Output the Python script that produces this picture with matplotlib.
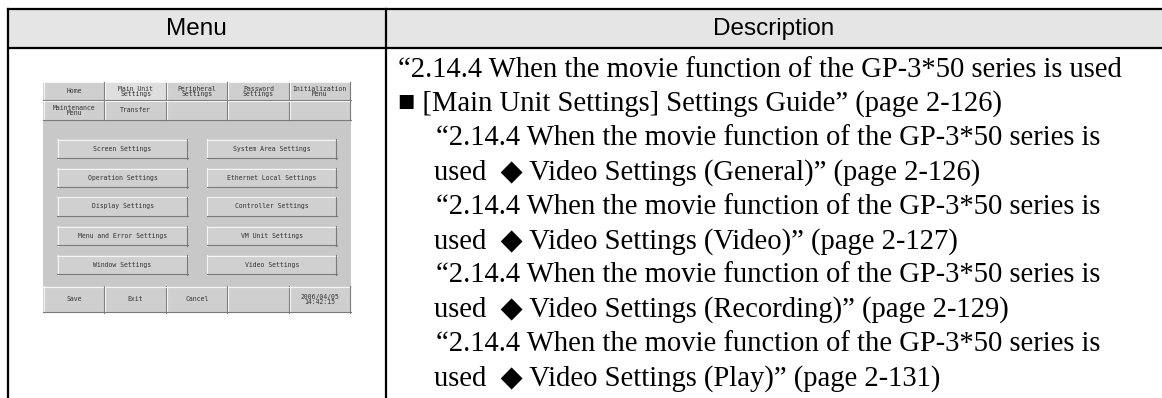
import matplotlib
matplotlib.use("Agg")
import matplotlib.pyplot as plt
from matplotlib.patches import Rectangle
import numpy as np

# ---- table content ----
headers = ["Menu", "Description"]

desc_lines = [
    "\u201c2.14.4 When the movie function of the GP-3*50 series is used",
    "\u25a0 [Main Unit Settings] Settings Guide\u201d (page 2-126)",
    "\u201c2.14.4 When the movie function of the GP-3*50 series is",
    "used  \u25c6 Video Settings (General)\u201d (page 2-126)",
    "\u201c2.14.4 When the movie function of the GP-3*50 series is",
    "used  \u25c6 Video Settings (Video)\u201d (page 2-127)",
    "\u201c2.14.4 When the movie function of the GP-3*50 series is",
    "used  \u25c6 Video Settings (Recording)\u201d (page 2-129)",
    "\u201c2.14.4 When the movie function of the GP-3*50 series is",
    "used  \u25c6 Video Settings (Play)\u201d (page 2-131)",
]
desc_indent = [0, 0, 2, 1, 2, 1, 2, 1, 2, 1]  # 0 = flush, 1 = "used" indent, 2 = quote indent

# ---- screen capture content ----
tab_row1 = ["Home", "Main Unit\nSettings", "Peripheral\nSettings", "Password\nSettings", "Initialization\nMenu"]
tab_row2 = ["Maintenance\nMenu", "Transfer", "", "", ""]
buttons_left = ["Screen Settings", "Operation Settings", "Display Settings",
                "Menu and Error Settings", "Window Settings"]
buttons_right = ["System Area Settings", "Ethernet Local Settings", "Controller Settings",
                 "VM Unit Settings", "Video Settings"]
bottom_row = ["Save", "Exit", "Cancel", "", "2006/04/05\n14:42:15"]

W, H = 1162, 398
fig = plt.figure(figsize=(W / 100, H / 100), dpi=100)
ax = fig.add_axes([0, 0, 1, 1])
ax.set_xlim(0, W)
ax.set_ylim(H, 0)
ax.axis("off")

# table frame
X_LEFT, X_DIV, Y_TOP, Y_HEAD = 7.5, 385.7, 9.0, 47.5
LW = 1.6
ax.add_patch(Rectangle((X_LEFT, Y_TOP), W - X_LEFT, Y_HEAD - Y_TOP, facecolor="#e5e5e5", edgecolor="none"))
ax.plot([X_LEFT, W], [Y_TOP, Y_TOP], color="black", lw=LW, solid_capstyle="projecting")
ax.plot([X_LEFT, W], [Y_HEAD, Y_HEAD], color="black", lw=LW)
ax.plot([X_LEFT, X_LEFT], [Y_TOP, H], color="black", lw=LW, solid_capstyle="projecting")
ax.plot([X_DIV, X_DIV], [Y_TOP, H], color="black", lw=LW)

hfont = dict(family=["Liberation Sans", "DejaVu Sans"], fontsize=17.5, va="center", ha="center")
ax.text((X_LEFT + X_DIV) / 2, (Y_TOP + Y_HEAD) / 2 + 1, headers[0], **hfont)
ax.text((X_DIV + W) / 2, (Y_TOP + Y_HEAD) / 2 + 1, headers[1], **hfont)

# description text
indent_x = {0: 398, 1: 434, 2: 436}
for i, (line, ind) in enumerate(zip(desc_lines, desc_indent)):
    ax.text(indent_x[ind], 76.7 + i * 34.3, line, family=["Liberation Serif", "DejaVu Sans"],
            fontsize=20.6, va="baseline", ha="left", color="black")

# ---- screen capture ----
PX0, PX1, PY0, PY1 = 43.3, 350.7, 81.7, 312.7
BG = "#c8c8c8"
TXT = "#333333"
sfont = dict(family="DejaVu Sans Mono", fontsize=4.7, color=TXT, ha="center", va="center",
             linespacing=0.85)


def bevel(x0, y0, x1, y1, face="#d2d2d2", light="#f4f4f4", dark="#7a7a7a"):
    ax.add_patch(Rectangle((x0, y0), x1 - x0, y1 - y0, facecolor=face, edgecolor="none"))
    ax.plot([x0, x1], [y0 + 0.5, y0 + 0.5], color=light, lw=0.8)
    ax.plot([x0 + 0.5, x0 + 0.5], [y0, y1], color=light, lw=0.8)
    ax.plot([x0, x1], [y1 - 0.5, y1 - 0.5], color=dark, lw=0.8)
    ax.plot([x1 - 0.5, x1 - 0.5], [y0, y1], color=dark, lw=0.8)


ax.add_patch(Rectangle((PX0, PY0), PX1 - PX0, PY1 - PY0, facecolor=BG, edgecolor="none"))

cols = np.linspace(PX0, PX1, 6)
tab_rows = [(81.7, 100.7, tab_row1), (100.7, 120.0, tab_row2)]
for y0, y1, labels in tab_rows:
    for j, lab in enumerate(labels):
        face = "#dedede" if lab.startswith("Main Unit") else "#cfcfcf"
        bevel(cols[j], y0, cols[j + 1], y1, face=face)
        if lab:
            ax.text((cols[j] + cols[j + 1]) / 2, (y0 + y1) / 2, lab, **sfont)

btn_tops = [139.3, 168.3, 196.7, 226.0, 255.0]
BTN_H = 19.5
for x0, x1, labels in [(57.3, 187.7, buttons_left), (206.7, 336.7, buttons_right)]:
    for top, lab in zip(btn_tops, labels):
        bevel(x0, top, x1, top + BTN_H, face="#d0d0d0")
        ax.text((x0 + x1) / 2, top + BTN_H / 2, lab, **sfont)

for j, lab in enumerate(bottom_row):
    bevel(cols[j], 286.0, cols[j + 1], PY1, face="#cfcfcf")
    if lab:
        ax.text((cols[j] + cols[j + 1]) / 2, (286.0 + PY1) / 2, lab, **sfont)

fig.savefig("out.png", dpi=100)
